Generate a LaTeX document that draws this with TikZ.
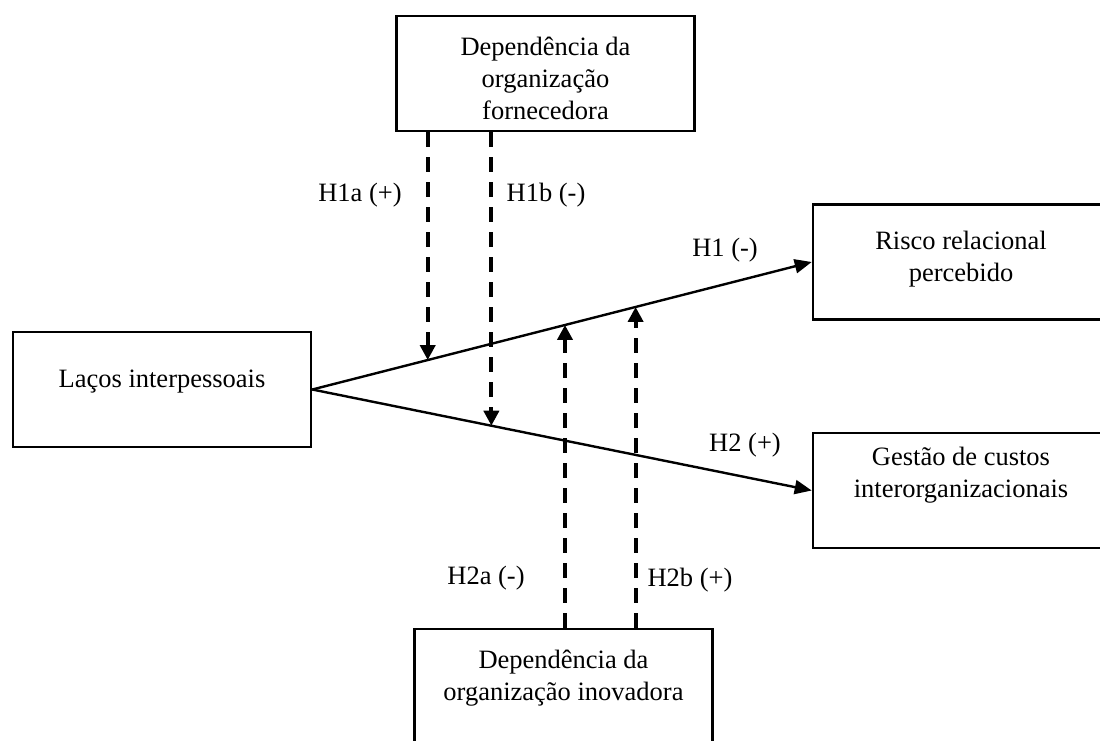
\documentclass[tikz,border=0pt]{standalone}
\usepackage{fontspec}
\setmainfont{Liberation Serif}
\usetikzlibrary{arrows.meta,calc}

\begin{document}
\begin{tikzpicture}[
  x=1pt, y=-1pt,
  box/.style={draw, line width=2.6pt, rectangle, inner sep=0pt,
              minimum width=298pt, minimum height=115pt},
  txt/.style={align=center, inner sep=0pt,
              font=\fontsize{26.5pt}{32pt}\selectfont},
  effect/.style={line width=2.4pt, -{Triangle[length=17pt,width=14pt]}},
  moderation/.style={line width=4pt, dash pattern=on 15pt off 10pt,
                     -{Triangle[length=15pt,width=15pt]}}
]
  % canvas
  \fill[white] (0,0) rectangle (1100,740);
  \useasboundingbox (0,0) rectangle (1100,740);
  \clip (0,0) rectangle (1100,740);

  % construct boxes
  \node[box] (forn)   at (545.5,73.5)  {};
  \node[box] (lacos)  at (162,389.5)   {};
  \node[box] (risco)  at (962,262)     {};
  \node[box] (gestao) at (962,490.5)   {};
  \node[box] (inov)   at (563.5,686.5) {};

  % construct names
  \node[txt] (forn-t)   at (545.5,80.6)  {\strut Dependência da\\\strut organização\\\strut fornecedora};
  \node[txt] (lacos-t)  at (162,380.6)   {\strut Laços interpessoais};
  \node[txt] (risco-t)  at (961,258.6)   {\strut Risco relacional\\\strut percebido};
  \node[txt] (gestao-t) at (961,474.6)   {\strut Gestão de custos\\\strut interorganizacionais};
  \node[txt] (inov-t)   at (563.5,677.6) {\strut Dependência da\\\strut organização inovadora};

  % main effects
  \draw[effect] (lacos.east) -- (risco.west);
  \draw[effect] (lacos.east) -- (gestao.west);

  % points where the moderators meet the main paths
  \coordinate (m1a) at ($(lacos.east)!0.2311!(risco.west)$);
  \coordinate (m1b) at ($(lacos.east)!0.3586!(gestao.west)$);
  \coordinate (m2a) at ($(lacos.east)!0.5060!(risco.west)$);
  \coordinate (m2b) at ($(lacos.east)!0.6474!(risco.west)$);

  % moderating effects
  \draw[moderation] (forn.south -| m1a) -- (m1a);
  \draw[moderation] (forn.south -| m1b) -- (m1b);
  \draw[moderation] (inov.north -| m2a) -- (m2a);
  \draw[moderation] (inov.north -| m2b) -- (m2b);

  % hypothesis labels
  \node[txt] (h1a) at (360,194.6) {\strut H1a (+)};
  \node[txt] (h1b) at (546,194.6) {\strut H1b (-)};
  \node[txt] (h1)  at (725,249.6) {\strut H1 (-)};
  \node[txt] (h2)  at (745,444.6) {\strut H2 (+)};
  \node[txt] (h2a) at (486,577.6) {\strut H2a (-)};
  \node[txt] (h2b) at (690,579.6) {\strut H2b (+)};
\end{tikzpicture}
\end{document}
